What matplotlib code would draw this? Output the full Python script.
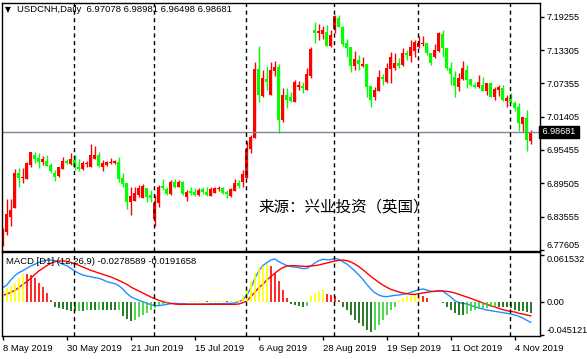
import numpy as np
import matplotlib.pyplot as plt

plt.rcParams['font.family'] = ['Liberation Sans', 'DejaVu Sans']

# daily USDCNH bars, 8 May 2019 .. 8 Nov 2019
opens = [6.7926, 6.8086, 6.8344, 6.8515, 6.9140, 6.9045, 6.9028, 6.9278, 6.9451, 6.9408,
         6.9336, 6.9354, 6.9278, 6.9140, 6.9086, 6.9211, 6.9354, 6.9295, 6.9367, 6.9247,
         6.9211, 6.9290, 6.9247, 6.9385, 6.9456, 6.9247, 6.9278, 6.9308, 6.9308, 6.9336,
         6.9051, 6.8961, 6.8622, 6.8635, 6.8742, 6.8683, 6.8872, 6.8742, 6.8313, 6.8594,
         6.8903, 6.8844, 6.8760, 6.8969, 6.8890, 6.8979, 6.8711, 6.8819, 6.8801, 6.8742,
         6.8849, 6.8801, 6.8729, 6.8783, 6.8844, 6.8861, 6.8795, 6.8724, 6.8819, 6.8951,
         6.8979, 6.9040, 6.9558, 6.9754, 7.0992, 7.0515, 7.0808, 7.0528, 7.0961, 7.1028,
         7.0081, 7.0528, 7.0486, 7.0408, 7.0665, 7.0688, 7.0617, 7.0867, 7.1688, 7.1640,
         7.1617, 7.1647, 7.1403, 7.1706, 7.1908, 7.1747, 7.1461, 7.1390, 7.1045, 7.1153,
         7.1045, 7.1081, 7.0688, 7.0497, 7.0604, 7.0844, 7.0765, 7.0992, 7.1004, 7.1104,
         7.1063, 7.1272, 7.1224, 7.1319, 7.1390, 7.1433, 7.1461, 7.1272, 7.1211, 7.1319,
         7.1617, 7.1372, 7.1015, 7.0854, 7.0676, 7.0808, 7.0974, 7.0808, 7.0706, 7.0676,
         7.0706, 7.0604, 7.0747, 7.0497, 7.0617, 7.0647, 7.0420, 7.0479, 7.0379, 7.0308,
         7.0010, 7.0122, 6.97078]
highs = [6.8147, 6.8665, 6.8665, 6.9211, 6.9219, 6.9219, 6.9336, 6.9510, 6.9504, 6.9492,
         6.9438, 6.9456, 6.9308, 6.9188, 6.9247, 6.9415, 6.9379, 6.9486, 6.9456, 6.9385,
         6.9354, 6.9344, 6.9653, 6.9617, 6.9515, 6.9367, 6.9354, 6.9397, 6.9367, 6.9420,
         6.9140, 6.8961, 6.8879, 6.8890, 6.8920, 6.8938, 6.8872, 6.8831, 6.8742, 6.8920,
         6.9028, 6.8890, 6.9010, 6.9022, 6.9010, 6.8997, 6.8831, 6.8890, 6.8872, 6.8861,
         6.8890, 6.8890, 6.8879, 6.8879, 6.8903, 6.8890, 6.8831, 6.8872, 6.9022, 6.9010,
         6.9188, 6.9711, 6.9813, 7.1111, 7.1408, 7.0974, 7.1045, 7.1117, 7.1135, 7.1081,
         7.0647, 7.0647, 7.0586, 7.0795, 7.0778, 7.0765, 7.1004, 7.1390, 7.1836, 7.1795,
         7.1765, 7.1778, 7.1688, 7.1956, 7.1956, 7.1760, 7.1522, 7.1390, 7.1313, 7.1242,
         7.1201, 7.1081, 7.0688, 7.0676, 7.0974, 7.0903, 7.1094, 7.1301, 7.1272, 7.1183,
         7.1361, 7.1331, 7.1510, 7.1510, 7.1581, 7.1581, 7.1461, 7.1283, 7.1438, 7.1647,
         7.1688, 7.1372, 7.1122, 7.0961, 7.0915, 7.1140, 7.1063, 7.0808, 7.0765, 7.0885,
         7.0854, 7.0747, 7.0765, 7.0676, 7.0706, 7.0706, 7.0528, 7.0558, 7.0426, 7.0379,
         7.0140, 7.0260, 6.98981]
lows = [6.7831, 6.8028, 6.8188, 6.8515, 6.8890, 6.8961, 6.9028, 6.9236, 6.9308, 6.9219,
        6.9278, 6.9260, 6.9129, 6.8992, 6.9069, 6.9201, 6.9290, 6.9278, 6.9188, 6.9165,
        6.9188, 6.9247, 6.9247, 6.9385, 6.9236, 6.9170, 6.9260, 6.9295, 6.9295, 6.8979,
        6.8890, 6.8492, 6.8385, 6.8635, 6.8711, 6.8683, 6.8622, 6.8622, 6.8188, 6.8533,
        6.8831, 6.8742, 6.8747, 6.8861, 6.8885, 6.8742, 6.8635, 6.8742, 6.8724, 6.8724,
        6.8760, 6.8724, 6.8724, 6.8772, 6.8819, 6.8760, 6.8694, 6.8711, 6.8813, 6.8861,
        6.8879, 6.9040, 6.9497, 6.9754, 7.0408, 7.0497, 7.0617, 7.0528, 7.0867, 6.9854,
        7.0051, 7.0290, 7.0408, 7.0408, 7.0617, 7.0558, 7.0617, 7.0826, 7.1461, 7.1510,
        7.1522, 7.1403, 7.1390, 7.1629, 7.1747, 7.1403, 7.1211, 7.0944, 7.0974, 7.0974,
        7.1033, 7.0497, 7.0319, 7.0438, 7.0599, 7.0706, 7.0747, 7.0747, 7.0974, 7.1004,
        7.1051, 7.1153, 7.1122, 7.1201, 7.1361, 7.1408, 7.1242, 7.1063, 7.1194, 7.1301,
        7.1201, 7.0974, 7.0706, 7.0497, 7.0599, 7.0795, 7.0658, 7.0688, 7.0647, 7.0658,
        7.0604, 7.0528, 7.0497, 7.0438, 7.0510, 7.0426, 7.0308, 7.0390, 7.0242, 6.9885,
        6.9872, 6.9528, 6.96498]
closes = [6.8129, 6.8403, 6.8474, 6.9129, 6.9040, 6.9054, 6.9319, 6.9510, 6.9385, 6.9336,
          6.9385, 6.9265, 6.9170, 6.9069, 6.9236, 6.9354, 6.9308, 6.9385, 6.9236, 6.9201,
          6.9319, 6.9308, 6.9456, 6.9456, 6.9265, 6.9319, 6.9326, 6.9326, 6.9349, 6.9028,
          6.8938, 6.8617, 6.8724, 6.8783, 6.8861, 6.8903, 6.8711, 6.8683, 6.8594, 6.8890,
          6.8861, 6.8760, 6.8974, 6.8890, 6.8979, 6.8760, 6.8801, 6.8772, 6.8742, 6.8831,
          6.8790, 6.8742, 6.8849, 6.8861, 6.8867, 6.8783, 6.8760, 6.8849, 6.8961, 6.8908,
          6.9117, 6.9563, 6.9783, 7.0992, 7.0528, 7.0836, 7.0765, 7.0974, 7.1028, 7.0081,
          7.0528, 7.0438, 7.0426, 7.0765, 7.0706, 7.0647, 7.0903, 7.1349, 7.1640, 7.1670,
          7.1688, 7.1403, 7.1599, 7.1938, 7.1747, 7.1438, 7.1372, 7.1045, 7.1170, 7.1081,
          7.1081, 7.0676, 7.0438, 7.0617, 7.0844, 7.0808, 7.1004, 7.1211, 7.1104, 7.1051,
          7.1272, 7.1236, 7.1390, 7.1479, 7.1451, 7.1461, 7.1272, 7.1104, 7.1331, 7.1629,
          7.1372, 7.1015, 7.0903, 7.0688, 7.0826, 7.1004, 7.0795, 7.0706, 7.0676, 7.0765,
          7.0604, 7.0747, 7.0497, 7.0635, 7.0676, 7.0438, 7.0479, 7.0408, 7.0301, 7.0022,
          7.0129, 6.9724, 6.98681]

# MACD (12,26,9)
macd_line = [0.01844, 0.0220, 0.02867, 0.03444, 0.03844, 0.04111, 0.04422, 0.04733, 0.04956, 0.05222,
             0.0540, 0.05489, 0.05533, 0.05444, 0.05222, 0.04956, 0.04778, 0.04422, 0.04067, 0.03756,
             0.03533, 0.0340, 0.03311, 0.03178, 0.03089, 0.02911, 0.02644, 0.02511, 0.02378, 0.02111,
             0.01667, 0.01089, 0.00644, 0.00378, 0.00156, -0.00022, -0.00244, -0.00422, -0.00556, -0.00556,
             -0.00467, -0.00378, -0.00289, -0.00244, -0.00289, -0.00289, -0.00333, -0.00333, -0.00333, -0.00333,
             -0.00333, -0.00333, -0.00289, -0.00289, -0.00289, -0.00289, -0.00244, -0.00244, -0.0020, -0.00022,
             0.0020, 0.00867, 0.01756, 0.03089, 0.04067, 0.04778, 0.05178, 0.05533, 0.05667, 0.05311,
             0.05044, 0.04778, 0.04644, 0.0460, 0.04511, 0.04378, 0.04422, 0.04733, 0.05133, 0.05444,
             0.05622, 0.05578, 0.05578, 0.05756, 0.05622, 0.05311, 0.0500, 0.04556, 0.04067, 0.03533,
             0.02956, 0.02289, 0.01667, 0.01178, 0.00867, 0.00689, 0.00644, 0.00733, 0.00822, 0.00867,
             0.00956, 0.01044, 0.01222, 0.0140, 0.01578, 0.01667, 0.01533, 0.01356, 0.01356, 0.01444,
             0.01356, 0.0100, 0.0060, 0.00111, -0.00156, -0.00244, -0.00333, -0.00511, -0.00689, -0.00867,
             -0.0100, -0.01133, -0.01222, -0.01311, -0.0140, -0.01489, -0.01578, -0.01667, -0.0180, -0.01978,
             -0.0220, -0.02511, -0.0278589]
signal_line = [0.00822, 0.0100, 0.01222, 0.01489, 0.01844, 0.02289, 0.02644, 0.03089, 0.03622, 0.04067,
               0.04422, 0.04778, 0.05089, 0.05311, 0.0540, 0.0540, 0.05356, 0.05222, 0.05044, 0.04822,
               0.0460, 0.04378, 0.04156, 0.03978, 0.0380, 0.03622, 0.03444, 0.03267, 0.03044, 0.02822,
               0.02556, 0.02289, 0.01933, 0.01667, 0.0140, 0.01133, 0.00867, 0.0060, 0.00378, 0.00156,
               -0.00022, -0.00156, -0.00244, -0.00333, -0.00378, -0.00378, -0.00378, -0.00378, -0.00378, -0.00378,
               -0.00378, -0.00378, -0.00378, -0.00378, -0.00378, -0.00378, -0.00378, -0.00378, -0.00378, -0.00333,
               -0.00156, 0.00067, 0.00644, 0.01222, 0.01844, 0.02289, 0.02867, 0.03311, 0.03756, 0.0420,
               0.04511, 0.04733, 0.04778, 0.04778, 0.04733, 0.04689, 0.04689, 0.04733, 0.04778, 0.04867,
               0.0500, 0.05133, 0.05267, 0.0540, 0.05489, 0.05533, 0.05444, 0.05267, 0.0500, 0.04644,
               0.04244, 0.0380, 0.03356, 0.02956, 0.02556, 0.0220, 0.01889, 0.01622, 0.01444, 0.01267,
               0.01133, 0.01044, 0.00956, 0.00956, 0.01044, 0.01133, 0.01222, 0.01311, 0.01356, 0.0140,
               0.0140, 0.01356, 0.01267, 0.01133, 0.00956, 0.00778, 0.0060, 0.00422, 0.0020, 0.00022,
               -0.0020, -0.00378, -0.00556, -0.00733, -0.00911, -0.01089, -0.01222, -0.01311, -0.0140, -0.01578,
               -0.01667, -0.0180, -0.0191658]
histogram = [0.01422, 0.01778, 0.02133, 0.02533, 0.03111, 0.03733, 0.03644, 0.03467, 0.03111, 0.02533,
             0.01867, 0.01111, 0.00222, -0.00667, -0.00844, -0.00978, -0.01111, -0.0120, -0.01244, -0.0120,
             -0.0120, -0.01156, -0.01156, -0.01156, -0.01111, -0.01111, -0.01111, -0.01111, -0.01111, -0.01067,
             -0.01867, -0.02311, -0.02578, -0.02444, -0.02133, -0.01778, -0.01556, -0.01111, -0.0080, -0.00533,
             -0.00267, -0.00178, -0.00089, -0.00044, -0.00044, 0.0, 0.0, 0.00044, 0.00044, 0.00089,
             0.00089, 0.00044, 0.00044, 0.00089, 0.00089, 0.00089, 0.00044, 0.00044, 0.00044, 0.00222,
             0.00889, 0.01778, 0.02756, 0.03778, 0.04444, 0.0480, 0.04978, 0.04667, 0.03778, 0.02667,
             0.01556, 0.00444, -0.00356, -0.00444, -0.00578, -0.00667, -0.00578, 0.00667, 0.01111, 0.01422,
             0.01556, 0.00978, 0.00889, 0.00667, 0.00222, -0.00667, -0.01111, -0.01778, -0.02444, -0.02889,
             -0.03333, -0.03778, -0.0400, -0.03778, -0.03111, -0.02444, -0.01778, -0.01111, -0.00667, 0.00222,
             0.00444, 0.00667, 0.0080, 0.00889, 0.00889, 0.00667, 0.00444, 0.0, 0.0, -0.00089,
             -0.00222, -0.00667, -0.01111, -0.01556, -0.01778, -0.01778, -0.01689, -0.01333, -0.01111, -0.00978,
             -0.00889, -0.0080, -0.00756, -0.00711, -0.00711, -0.00711, -0.00711, -0.00889, -0.01111, -0.01244,
             -0.01333, -0.01422, -0.01467]

date_labels = ["8 May 2019", "30 May 2019", "21 Jun 2019", "15 Jul 2019", "6 Aug 2019",
               "28 Aug 2019", "19 Sep 2019", "11 Oct 2019", "4 Nov 2019"]
date_bars = [0, 16, 32, 48, 64, 80, 96, 112, 128]
month_start_bars = [18, 38, 61, 83, 104, 127]
price_ticks = [7.19255, 7.13305, 7.07355, 7.01405, 6.95455, 6.89505, 6.83555, 6.77605]
macd_ticks = [0.061532, 0.0, -0.045121]
macd_tick_labels = ["0.061532", "0.00", "-0.045121"]

o = np.array(opens)
h = np.array(highs)
l = np.array(lows)
c = np.array(closes)
x = np.arange(len(o))

W, H = 587, 359
fig = plt.figure(figsize=(W / 100, H / 100), dpi=100)

ax = fig.add_axes([2 / W, 1 - 251 / H, 538 / W, 248.3 / H])
ax2 = fig.add_axes([2 / W, 1 - 335.7 / H, 538 / W, 83.4 / H])

# candles: red = up, green = down
cols = np.where(c >= o, '#ff0000', '#00ff00')
ax.vlines(x, l, h, colors=cols, lw=1)
ax.bar(x, np.maximum(np.abs(c - o), 0.0012), bottom=np.minimum(o, c),
       width=0.72, color=cols, lw=0)
ax.axhline(c[-1], color='#778899', lw=1)

xlim = (-0.2, 134.3)
ax.set_xlim(*xlim)
ax.set_ylim(6.7742, 7.2175)
ax.set_xticks([])
ax.yaxis.tick_right()
ax.set_yticks(price_ticks)
ax.set_yticklabels(["%.5f" % t for t in price_ticks])
ax.tick_params(axis='y', length=3, width=1, pad=2, labelsize=6.6)
ax.get_yticklabels()[-1].set_va('bottom')

# current price box
ax.text(1.0, c[-1], " %.5f " % c[-1], transform=ax.get_yaxis_transform(),
        ha='left', va='center', fontsize=6.6, color='white',
        bbox=dict(boxstyle='square,pad=0.12', fc='black', ec='black'))

# MACD panel
ax2.plot(x, macd_line, color='#1e90ff', lw=1)
ax2.plot(x, signal_line, color='#ff0000', lw=1)
hist = np.array(histogram)
prev = np.concatenate([[hist[0]], hist[:-1]])
hcols = []
for v, p in zip(hist, prev):
    if v >= 0:
        hcols.append('#ffff00' if v >= p else '#ff0000')
    else:
        hcols.append('#006400' if v <= p else '#32cd32')
ax2.vlines(x, 0, hist, colors=hcols, lw=1.2)
ax2.set_xlim(*xlim)
ax2.set_ylim(-0.0456, 0.0656)
ax2.yaxis.tick_right()
ax2.set_yticks(macd_ticks)
ax2.set_yticklabels(macd_tick_labels)
ax2.tick_params(axis='y', length=3, width=1, pad=2, labelsize=6.6)
ylabs = ax2.get_yticklabels()
ylabs[0].set_va('top')
ylabs[2].set_va('bottom')
ax2.set_xticks(date_bars)
ax2.set_xticklabels(date_labels, ha='left')
ax2.tick_params(axis='x', length=3, width=1, pad=3, labelsize=6.8)

for a in (ax, ax2):
    for s in a.spines.values():
        s.set_color('black')
        s.set_linewidth(1)
    for m in month_start_bars:
        a.axvline(m - 0.15, color='black', lw=1, ls=(0, (3, 2.5)))

fig.text(5 / W, 1 - 10 / H, "\u25bc", fontsize=5.5, va='center', ha='left',
         family=['DejaVu Sans'])
fig.text(17 / W, 1 - 10 / H, "USDCNH,Daily  6.97078 6.98981 6.96498 6.98681",
         fontsize=6.8, va='center', ha='left')
fig.text(6 / W, 1 - 262 / H, "MACD [D1] (12,26,9) -0.0278589 -0.0191658",
         fontsize=6.8, va='center', ha='left')
fig.text(258 / W, 1 - 207 / H, "来源：兴业投资（英国）", fontsize=11.2,
         va='center', ha='left', family=['Noto Sans CJK SC', 'DejaVu Sans'])

fig.savefig('out.png', dpi=100)
